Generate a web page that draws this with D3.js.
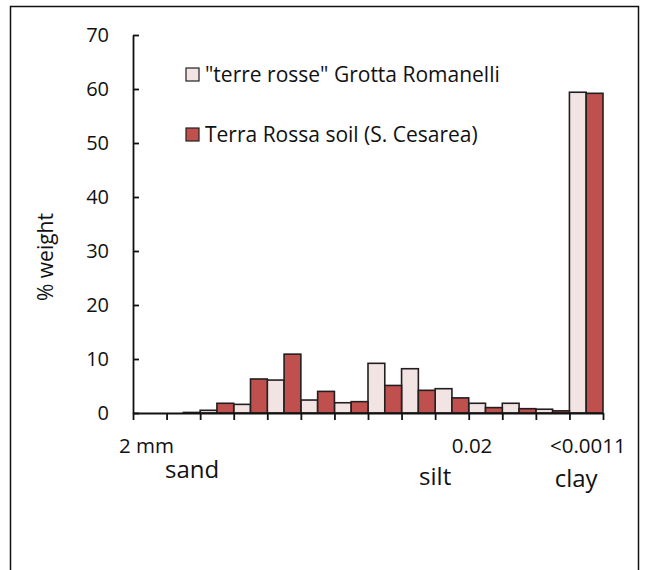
<!DOCTYPE html>
<html>
<head>
<meta charset="utf-8">
<script src="https://cdn.jsdelivr.net/npm/d3@7"></script>
<style>
  body { margin: 0; background: #fff; }
  text { font-family: "Open Sans", sans-serif; fill: #111; }
</style>
</head>
<body>
<svg id="chart" width="649" height="570"></svg>
<script>
// size classes, coarse (2 mm) to fine (<0.0011 mm)
const categories = d3.range(14).map(i => "c" + (i + 1));
const series = ['"terre rosse" Grotta Romanelli', "Terra Rossa soil (S. Cesarea)"];
const romanelli = [0, 0, 0.5, 1.6, 6.1, 2.4, 1.9, 9.2, 8.2, 4.5, 1.8, 1.8, 0.7, 59.4];
const cesarea = [0, 0.1, 1.8, 6.3, 10.9, 4.0, 2.1, 5.1, 4.2, 2.8, 1.0, 0.8, 0.4, 59.2];
const yTicks = [0, 10, 20, 30, 40, 50, 60, 70];
// size labels under the axis, position in category units
const sizeLabels = [["2 mm", 0.4], ["0.02", 10.1], ["<0.0011", 13.55]];
const classLabels = [["sand", 1.76, 478], ["silt", 9.0, 485], ["clay", 13.2, 487]];

const colors = ["#f3e4e4", "#c0504d"];

const svg = d3.select("#chart");

// outer frame
svg.append("rect")
    .attr("x", 10.5)
    .attr("y", 6.5)
    .attr("width", 628)
    .attr("height", 600)
    .attr("fill", "none")
    .attr("stroke", "#111")
    .attr("stroke-width", 1.5);

const plotLeft = 133, plotRight = 603, plotTop = 35, plotBottom = 413;

const x = d3.scaleBand().domain(categories).range([plotLeft, plotRight]).padding(0);
const xs = d3.scaleBand().domain([0, 1]).range([0, x.bandwidth()]).padding(0);
const xEdge = d3.scaleLinear().domain([0, categories.length]).range([plotLeft, plotRight]);
const y = d3.scaleLinear().domain([0, 70]).range([plotBottom, plotTop]);

// bars
const data = [romanelli, cesarea];
data.forEach(function (vals, s) {
    svg.append("g")
        .selectAll("rect")
        .data(vals)
        .join("rect")
        .attr("x", (d, i) => x(categories[i]) + xs(s))
        .attr("y", d => y(d))
        .attr("width", xs.bandwidth())
        .attr("height", d => y(0) - y(d))
        .attr("fill", colors[s])
        .attr("stroke", "#231f20")
        .attr("stroke-width", 1.6);
});

// y axis, ticks inside
const yAxis = svg.append("g")
    .attr("transform", "translate(" + plotLeft + ",0)")
    .call(d3.axisLeft(y).tickValues(yTicks).tickSizeInner(-6).tickSizeOuter(0).tickPadding(24));
yAxis.selectAll("text").style("font-size", "20px").style("font-family", "'Open Sans', sans-serif").attr("fill", "#111");
yAxis.selectAll("line, path").attr("stroke", "#111").attr("stroke-width", 1.8);

// x axis, ticks at class boundaries
const xAxis = svg.append("g")
    .attr("transform", "translate(0," + plotBottom + ")")
    .call(d3.axisBottom(xEdge).tickValues(d3.range(categories.length + 1)).tickFormat("").tickSizeInner(7).tickSizeOuter(0));
xAxis.selectAll("line, path").attr("stroke", "#111").attr("stroke-width", 1.8);

svg.append("g")
    .selectAll("text")
    .data(sizeLabels)
    .join("text")
    .attr("x", d => xEdge(d[1]))
    .attr("y", 453)
    .attr("text-anchor", "middle")
    .style("font-size", "20.5px")
    .text(d => d[0]);

svg.append("g")
    .selectAll("text")
    .data(classLabels)
    .join("text")
    .attr("x", d => xEdge(d[1]))
    .attr("y", d => d[2])
    .attr("text-anchor", "middle")
    .style("font-size", "24px")
    .text(d => d[0]);

// y title
svg.append("text")
    .attr("transform", "translate(53,257) rotate(-90)")
    .attr("text-anchor", "middle")
    .style("font-size", "21px")
    .text("% weight");

// legend
const legend = svg.append("g");
series.forEach(function (name, s) {
    const g = legend.append("g").attr("transform", "translate(186," + (68 + s * 60) + ")");
    g.append("rect")
        .attr("width", 13)
        .attr("height", 13)
        .attr("fill", colors[s])
        .attr("stroke", "#231f20")
        .attr("stroke-width", 1.2);
    g.append("text")
        .attr("x", 19)
        .attr("y", 14)
        .style("font-size", "21px")
        .text(name);
});
</script>
</body>
</html>
